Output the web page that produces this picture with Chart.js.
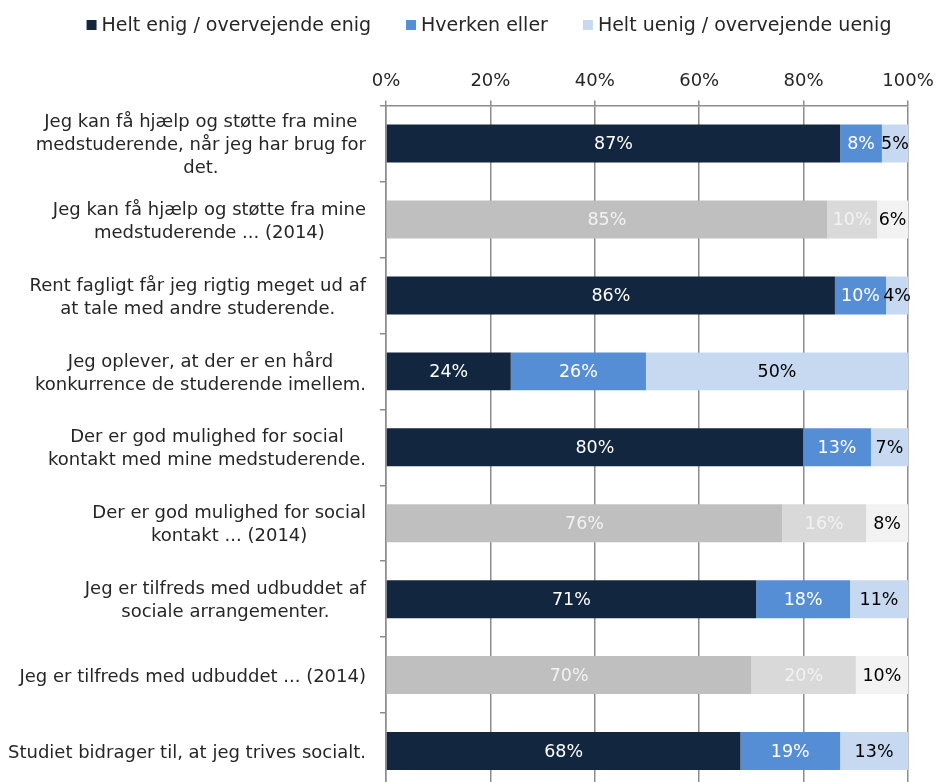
<!DOCTYPE html>
<html>
<head>
<meta charset="utf-8">
<script src="https://cdn.jsdelivr.net/npm/chart.js@4/dist/chart.umd.min.js"></script>
<style>
  html, body { margin: 0; padding: 0; background: #fff; overflow: hidden; }
  #wrap { width: 936px; height: 790px; }
</style>
</head>
<body>
<div id="wrap"><canvas id="chart"></canvas></div>
<script>
const FONT = '"DejaVu Sans", "Noto Sans", sans-serif';

const CATEGORIES = [
  ['Jeg kan få hjælp og støtte fra mine', 'medstuderende, når jeg har brug for', 'det.'],
  ['Jeg kan få hjælp og støtte fra mine', 'medstuderende ... (2014)'],
  ['Rent fagligt får jeg rigtig meget ud af', 'at tale med andre studerende.'],
  ['Jeg oplever, at der er en hård', 'konkurrence de studerende imellem.'],
  ['Der er god mulighed for social', 'kontakt med mine medstuderende.'],
  ['Der er god mulighed for social', 'kontakt ... (2014)'],
  ['Jeg er tilfreds med udbuddet af', 'sociale arrangementer.'],
  ['Jeg er tilfreds med udbuddet ... (2014)'],
  ['Studiet bidrager til, at jeg trives socialt.'],
];
// rows that are the 2014 comparison (drawn in grey)
const IS_2014 = [false, true, false, false, false, true, false, true, false];

const SERIES = ['Helt enig / overvejende enig', 'Hverken eller', 'Helt uenig / overvejende uenig'];
const ENIG   = [87, 84.5, 86, 23.9, 79.9, 75.9, 70.9, 70, 67.9];
const HVERKEN = [8, 9.6, 9.8, 25.9, 13, 16.1, 18, 20, 19.1];
const UENIG  = [5, 5.9, 4.2, 50.2, 7.1, 8, 11.1, 10, 13];

const X_TICKS = [0, 20, 40, 60, 80, 100];

const MAIN_COLORS = ['#12263f', '#558ed5', '#c6d9f1'];
const GREY_COLORS = ['#bfbfbf', '#d9d9d9', '#f2f2f2'];
const MAIN_TEXT = ['#ffffff', '#ffffff', '#000000'];
const GREY_TEXT = ['#f2f2f2', '#f2f2f2', '#000000'];

function fillFor(di) {
  return ctx => IS_2014[ctx.dataIndex] ? GREY_COLORS[di] : MAIN_COLORS[di];
}

const barLabels = {
  id: 'barLabels',
  afterDatasetsDraw(chart) {
    const c = chart.ctx;
    c.save();
    c.font = '17.5px ' + FONT;
    c.textAlign = 'center';
    c.textBaseline = 'middle';
    chart.data.datasets.forEach((ds, di) => {
      chart.getDatasetMeta(di).data.forEach((bar, i) => {
        c.fillStyle = IS_2014[i] ? GREY_TEXT[di] : MAIN_TEXT[di];
        c.fillText(Math.round(ds.data[i]) + '%', (bar.x + bar.base) / 2, bar.y + 1);
      });
    });
    c.restore();
  },
};

// category labels: each block right-aligned, lines centred inside the block
const catLabels = {
  id: 'catLabels',
  afterDraw(chart) {
    const c = chart.ctx;
    const y = chart.scales.y;
    const right = y.right - 20;
    const lh = 23;
    c.save();
    c.font = '18px ' + FONT;
    c.fillStyle = '#262626';
    c.textAlign = 'center';
    c.textBaseline = 'middle';
    CATEGORIES.forEach((lines, i) => {
      const w = Math.max(...lines.map(l => c.measureText(l).width));
      const cx = right - w / 2;
      const cy = y.getPixelForTick(i) + 2;
      lines.forEach((l, k) => {
        c.fillText(l, cx, cy + (k - (lines.length - 1) / 2) * lh);
      });
    });
    c.restore();
  },
};

// legend: small square, short gap, text; row centred a bit right of the middle
const legendRow = {
  id: 'legendRow',
  afterDraw(chart) {
    const c = chart.ctx;
    const box = 10, gap = 5, space = 35, cy = 25;
    c.save();
    c.font = '19px ' + FONT;
    c.textBaseline = 'middle';
    c.textAlign = 'left';
    const widths = SERIES.map(s => c.measureText(s).width);
    const total = widths.reduce((a, w) => a + box + gap + w, 0) + space * (SERIES.length - 1);
    let x = 489 - total / 2;
    SERIES.forEach((s, i) => {
      c.fillStyle = MAIN_COLORS[i];
      c.fillRect(x, cy - box / 2, box, box);
      c.fillStyle = '#262626';
      c.fillText(s, x + box + gap, cy + 1);
      x += box + gap + widths[i] + space;
    });
    c.restore();
  },
};

new Chart(document.getElementById('chart'), {
  type: 'bar',
  data: {
    labels: CATEGORIES,
    datasets: [ENIG, HVERKEN, UENIG].map((d, di) => ({
      label: SERIES[di],
      data: d,
      backgroundColor: fillFor(di),
      barPercentage: 0.5,
      categoryPercentage: 1,
    })),
  },
  options: {
    indexAxis: 'y',
    responsive: true,
    maintainAspectRatio: false,
    animation: false,
    layout: { padding: { top: 63, left: 40, right: 28, bottom: 1 } },
    plugins: {
      tooltip: { enabled: false },
      legend: { display: false },
    },
    scales: {
      x: {
        position: 'top',
        stacked: true,
        min: 0,
        max: 100,
        afterBuildTicks: s => { s.ticks = X_TICKS.map(v => ({ value: v })); },
        afterFit: s => { s.paddingRight = 0; },
        ticks: {
          callback: v => v + '%',
          font: { size: 18, family: FONT },
          color: '#262626',
          padding: 8,
          maxRotation: 0,
        },
        grid: { color: '#8c8c8c', lineWidth: 1.5, tickLength: 5 },
        border: { color: '#8c8c8c', width: 1.5 },
      },
      y: {
        stacked: true,
        ticks: { display: false },
        afterFit: s => { s.width = 346; },
        grid: { offset: true, drawOnChartArea: false, color: '#8c8c8c', lineWidth: 1.5, tickLength: 6 },
        border: { color: '#8c8c8c', width: 1.5 },
      },
    },
  },
  plugins: [barLabels, catLabels, legendRow],
});
</script>
</body>
</html>
